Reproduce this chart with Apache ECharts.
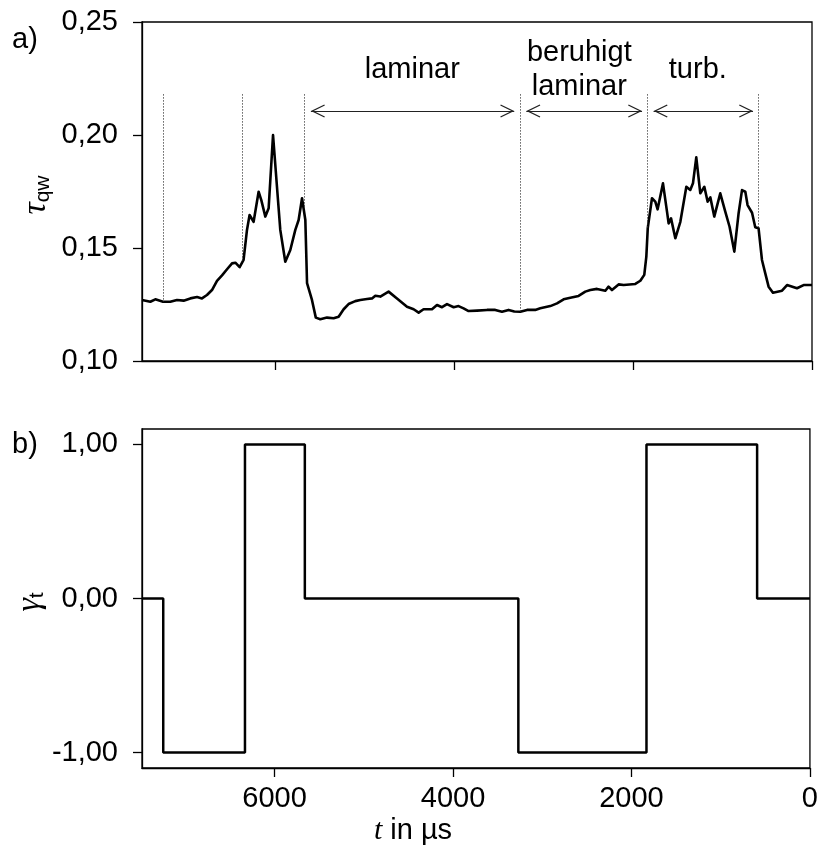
<!DOCTYPE html>
<html><head><meta charset="utf-8">
<script src="https://cdn.jsdelivr.net/npm/echarts@6/dist/echarts.min.js"></script>
<style>html,body{margin:0;padding:0;background:#fff}#c{width:821px;height:852px}</style>
</head><body><div id="c"></div>
<script>
// ---- data ----
const tauTime = [7486, 7393, 7337, 7251, 7170, 7095, 7021, 6946, 6871, 6816,
  6760, 6704, 6648, 6592, 6536, 6480, 6443, 6395, 6351, 6313,
  6284, 6239, 6183, 6153, 6108, 6071, 6022, 5978, 5941, 5885,
  5829, 5773, 5736, 5698, 5661, 5642, 5587, 5544, 5494, 5419,
  5345, 5289, 5233, 5178, 5103, 5047, 4972, 4916, 4879, 4823,
  4731, 4637, 4525, 4451, 4395, 4340, 4246, 4190, 4134, 4078,
  4004, 3949, 3893, 3837, 3743, 3631, 3539, 3464, 3390, 3326,
  3259, 3184, 3092, 3036, 2924, 2849, 2775, 2700, 2608, 2533,
  2477, 2402, 2309, 2273, 2235, 2161, 2105, 1974, 1918, 1874,
  1851, 1835, 1788, 1751, 1725, 1665, 1620, 1602, 1575, 1527,
  1471, 1404, 1360, 1330, 1293, 1248, 1203, 1166, 1136, 1092,
  1025, 969, 921, 868, 820, 782, 745, 720, 670, 634,
  597, 559, 522, 485, 436, 335, 279, 168, 94, 11, 0];
const tauValue = [0.1270, 0.1262, 0.1273, 0.1262, 0.1262, 0.1270, 0.1267, 0.1277, 0.1283, 0.1277,
  0.1292, 0.1314, 0.1355, 0.1379, 0.1406, 0.1432, 0.1435, 0.1415, 0.1447, 0.1580,
  0.1646, 0.1616, 0.1749, 0.1712, 0.1639, 0.1676, 0.2000, 0.1771, 0.1580, 0.1439,
  0.1491, 0.1580, 0.1624, 0.1720, 0.1624, 0.1345, 0.1270, 0.1192, 0.1185, 0.1192,
  0.1189, 0.1196, 0.1229, 0.1252, 0.1265, 0.1270, 0.1274, 0.1277, 0.1289, 0.1285,
  0.1307, 0.1277, 0.1240, 0.1229, 0.1214, 0.1229, 0.1229, 0.1248, 0.1238, 0.1252,
  0.1238, 0.1243, 0.1233, 0.1221, 0.1223, 0.1226, 0.1226, 0.1218, 0.1226, 0.1219,
  0.1218, 0.1226, 0.1226, 0.1233, 0.1243, 0.1255, 0.1273, 0.1280, 0.1288, 0.1307,
  0.1314, 0.1319, 0.1311, 0.1329, 0.1314, 0.1339, 0.1336, 0.1341, 0.1355, 0.1381,
  0.1462, 0.1588, 0.1720, 0.1705, 0.1671, 0.1786, 0.1661, 0.1609, 0.1631, 0.1543,
  0.1616, 0.1771, 0.1757, 0.1786, 0.1901, 0.1742, 0.1771, 0.1705, 0.1724, 0.1639,
  0.1742, 0.1661, 0.1594, 0.1484, 0.1654, 0.1756, 0.1749, 0.1690, 0.1656, 0.1592,
  0.1587, 0.1447, 0.1388, 0.1329, 0.1302, 0.1311, 0.1336, 0.1322, 0.1336, 0.1336, 0.1336];

const gammaTime = [7486, 7248, 6332, 5661, 3268, 1832, 592, 0];
const gammaValue = [0, -1, 1, 0, -1, 1, 0, 0];

const timeMax = 7486;
const xTicks = [0, 2000, 4000, 6000];
const gammaTicks = [-1, 0, 1];

const dividerTime = [7251, 6365, 5668, 3263, 1837, 597];
const dividerBottom = [0.1262, 0.1440, 0.1680, 0.1218, 0.1590, 0.1587];
const dividerTop = 0.218;

const arrowStart = [5599, 3192, 1770];
const arrowEnd = [3327, 1899, 659];
const arrowLevel = 0.2106;

const regionLabel = ['laminar', 'beruhigt\nlaminar', 'turb.'];
const regionTime = [4466, 2600, 1276];
const regionLevel = [0.2286, 0.2286, 0.2286];

// ---- chart ----
const FONT = '"Liberation Sans", Arial, Helvetica, sans-serif';
const SERIF = '"Liberation Serif", "DejaVu Serif", serif';
const fmt = v => v.toFixed(2).replace('.', ',');
const chevron = 'path://M7,14 L14,27.4 L12.85,28 L7,16.8 L1.15,28 L0,27.4 Z M7,0 L7,0.01 L7.01,0 Z';
const axisLS = { color: '#000', width: 1.3 };

const markLines = [];
dividerTime.forEach((t, i) => {
  markLines.push([
    { coord: [t, dividerTop], symbol: 'none', lineStyle: { type: [1.2, 1.8], width: 1, color: '#333' } },
    { coord: [t, dividerBottom[i]], symbol: 'none' }
  ]);
});
arrowStart.forEach((t, i) => {
  markLines.push([
    { coord: [t, arrowLevel], symbol: chevron, symbolSize: [13, 28], lineStyle: { type: 'solid', width: 1.1, color: '#222' } },
    { coord: [arrowEnd[i], arrowLevel], symbol: chevron, symbolSize: [13, 28] }
  ]);
});

const xAxisBase = (grid, showLabel) => ({
  gridIndex: grid, type: 'value', min: 0, max: timeMax, inverse: true,
  axisLine: { show: true, onZero: false, lineStyle: axisLS },
  axisTick: { show: true, inside: false, length: 9, customValues: xTicks, lineStyle: axisLS },
  axisLabel: { show: showLabel, customValues: xTicks, formatter: v => String(v), fontSize: 29, fontFamily: FONT, color: '#000', margin: 16 },
  splitLine: { show: false }
});

const chart = echarts.init(document.getElementById('c'));
chart.setOption({
  animation: false,
  backgroundColor: '#fff',
  grid: [
    { left: 142, top: 22, width: 670, height: 339, show: true, borderColor: '#000', borderWidth: 1.3 },
    { left: 142, top: 429, width: 670, height: 339, show: true, borderColor: '#000', borderWidth: 1.3 }
  ],
  xAxis: [ xAxisBase(0, false), xAxisBase(1, true) ],
  yAxis: [
    { gridIndex: 0, type: 'value', min: 0.10, max: 0.25, interval: 0.05, position: 'left',
      axisLine: { show: true, onZero: false, lineStyle: axisLS },
      axisTick: { show: true, inside: false, length: 9, lineStyle: axisLS },
      axisLabel: { formatter: fmt, fontSize: 29, fontFamily: FONT, color: '#000', margin: 24 },
      splitLine: { show: false } },
    { gridIndex: 1, type: 'value', min: -1.1, max: 1.1, position: 'left',
      axisLine: { show: true, onZero: false, lineStyle: axisLS },
      axisTick: { show: true, inside: false, length: 9, customValues: gammaTicks, lineStyle: axisLS },
      axisLabel: { customValues: gammaTicks, formatter: fmt, fontSize: 29, fontFamily: FONT, color: '#000', margin: 24 },
      splitLine: { show: false } }
  ],
  series: [
    { type: 'line', xAxisIndex: 0, yAxisIndex: 0, symbol: 'none',
      data: tauTime.map((t, i) => [t, tauValue[i]]),
      lineStyle: { color: '#000', width: 2.6, join: 'round' },
      markLine: { silent: true, symbol: 'none', label: { show: false }, data: markLines },
      markPoint: { silent: true, symbol: 'circle', symbolSize: 1, itemStyle: { color: 'rgba(0,0,0,0)' },
        label: { show: true, position: 'inside', formatter: p => p.name, fontSize: 29, fontFamily: FONT, color: '#000', lineHeight: 34, align: 'center' },
        data: regionLabel.map((s, i) => ({ name: s, coord: [regionTime[i], regionLevel[i]] })) }
    },
    { type: 'line', xAxisIndex: 1, yAxisIndex: 1, symbol: 'none', step: 'end',
      data: gammaTime.map((t, i) => [t, gammaValue[i]]),
      lineStyle: { color: '#000', width: 2.5 } }
  ],
  graphic: [
    { type: 'text', x: 25, y: 40, style: { text: 'a)', font: '29px ' + FONT, fill: '#000', align: 'center', verticalAlign: 'middle' } },
    { type: 'text', x: 25, y: 445, style: { text: 'b)', font: '29px ' + FONT, fill: '#000', align: 'center', verticalAlign: 'middle' } },
    { type: 'text', x: 36, y: 195, rotation: Math.PI / 2,
      style: { text: '{g|τ}{s|qw}', align: 'center', verticalAlign: 'middle',
        rich: { g: { fontFamily: SERIF, fontStyle: 'italic', fontSize: 34, lineHeight: 36, fill: '#000' },
                s: { fontFamily: FONT, fontSize: 21, lineHeight: 24, verticalAlign: 'bottom', fill: '#000' } } } },
    { type: 'text', x: 30, y: 602, rotation: Math.PI / 2,
      style: { text: '{g|γ}{s|t}', align: 'center', verticalAlign: 'middle',
        rich: { g: { fontFamily: SERIF, fontStyle: 'italic', fontSize: 34, lineHeight: 36, fill: '#000' },
                s: { fontFamily: FONT, fontSize: 21, lineHeight: 24, verticalAlign: 'bottom', fill: '#000' } } } },
    { type: 'text', x: 413, y: 831,
      style: { text: '{t|t}{n| in µs}', align: 'center', verticalAlign: 'middle',
        rich: { t: { fontFamily: SERIF, fontStyle: 'italic', fontSize: 30, fill: '#000' },
                n: { fontFamily: FONT, fontSize: 29, fill: '#000' } } } }
  ]
});
</script></body></html>
